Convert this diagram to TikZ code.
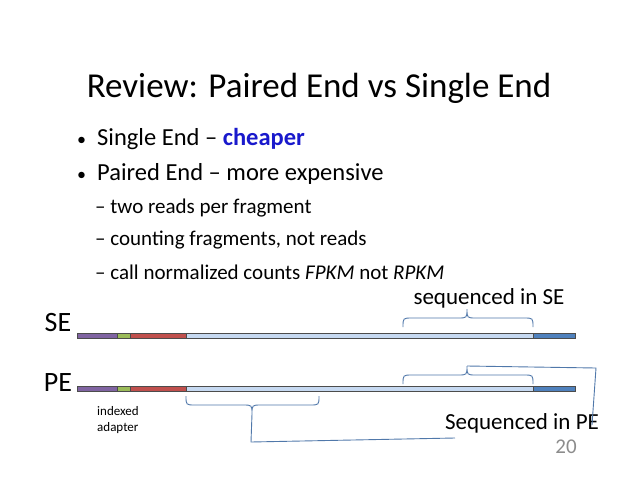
\documentclass[tikz,border=0pt]{standalone}
\usepackage{fontspec}
\setmainfont{Carlito}
\begin{document}
\begin{tikzpicture}[x=1pt,y=-1pt,
  seg/.style={draw=black!70,line width=0.4pt},
  txt/.style={inner sep=0pt,anchor=west}]
\useasboundingbox (0,0) rectangle (638,493);
\node[inner sep=0pt,font=\fontsize{35}{40}\selectfont] (title) at (319,88) {Review: Paired End vs Single End};
\node[txt,font=\fontsize{18}{20}\selectfont] (d1) at (77,141) {•};
\node[txt,font=\fontsize{18}{20}\selectfont] (d2) at (77,176) {•};
\node[txt,font=\fontsize{24.5}{28}\selectfont] (b1) at (97,139) {Single End – \textcolor[rgb]{0.1,0.1,0.8}{\textbf{cheaper}}};
\node[txt,font=\fontsize{24.5}{28}\selectfont] (b2) at (97,174) {Paired End – more expensive};
\node[txt,font=\fontsize{21}{24}\selectfont] (s1) at (95,208) {– two reads per fragment};
\node[txt,font=\fontsize{21}{24}\selectfont] (s2) at (95,240) {– counting fragments, not reads};
\node[txt,font=\fontsize{21}{24}\selectfont] (s3) at (95,272) {– call normalized counts \textit{FPKM} not \textit{RPKM}};
\node[inner sep=0pt,font=\fontsize{23}{26}\selectfont] (lse) at (489,298) {sequenced in SE};
\node[inner sep=0pt,font=\fontsize{28}{32}\selectfont] (se) at (58,323) {SE};
\node[inner sep=0pt,font=\fontsize{28}{32}\selectfont] (pe) at (58,383) {PE};
\node[txt,font=\fontsize{13}{15}\selectfont,align=left,anchor=north west] (ia) at (97,406) {indexed\\[1pt]adapter};
\node[inner sep=0pt,font=\fontsize{23}{26}\selectfont] (lpe) at (522,423) {Sequenced in PE};
\node[inner sep=0pt,font=\fontsize{21}{24}\selectfont,text=black!45] (num) at (566,447) {20};
\foreach \y/\n in {336/s,389/p}{
  \path[seg,fill={rgb,255:red,128;green,100;blue,162}] (77,\y-2.5) rectangle (117,\y+2.5);
  \path[seg,fill={rgb,255:red,155;green,187;blue,89}] (117,\y-2.5) rectangle (130,\y+2.5);
  \path[seg,fill={rgb,255:red,192;green,80;blue,77}] (130,\y-2.5) rectangle (186,\y+2.5);
  \path[seg,fill={rgb,255:red,198;green,217;blue,241}] (186,\y-2.5) rectangle (533,\y+2.5);
  \path[seg,fill={rgb,255:red,79;green,129;blue,189}] (533,\y-2.5) rectangle (575,\y+2.5);
}
\tikzset{bc/.style={draw={rgb,255:red,80;green,120;blue,170},line width=0.9pt}}
\draw[bc] (403,327) .. controls (403,318) .. (412,318) -- (458,318) .. controls (467,318) .. (467,309) .. controls (467,318) .. (476,318) -- (524,318) .. controls (533,318) .. (533,327);
\draw[bc] (403,384) .. controls (403,375) .. (412,375) -- (458,375) .. controls (467,375) .. (467,366) .. controls (467,375) .. (476,375) -- (524,375) .. controls (533,375) .. (533,384);
\draw[bc] (467,366) -- (596,368) -- (592,425);
\draw[bc] (186,396) .. controls (186,405) .. (195,405) -- (243,405) .. controls (252,405) .. (252,414) .. controls (252,405) .. (261,405) -- (310,405) .. controls (319,405) .. (319,396);
\draw[bc] (252,414) -- (251,442) -- (455,438);
\end{tikzpicture}
\end{document}
